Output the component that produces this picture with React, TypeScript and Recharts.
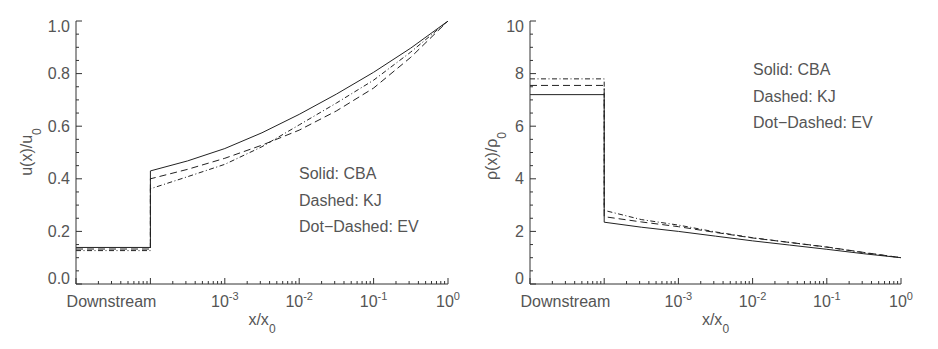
import { LineChart, Line, XAxis, YAxis } from "recharts";

const xPoints = [1e-5, 1e-4, 1e-4, 3.16e-4, 1e-3, 3.16e-3, 1e-2, 3.16e-2, 1e-1, 3.16e-1, 1];

// u(x)/u0
const uCBA = [0.139, 0.139, 0.43, 0.468, 0.515, 0.575, 0.645, 0.722, 0.805, 0.897, 1.0];
const uKJ = [0.133, 0.133, 0.4, 0.436, 0.478, 0.528, 0.585, 0.658, 0.745, 0.862, 1.0];
const uEV = [0.127, 0.127, 0.362, 0.408, 0.455, 0.522, 0.605, 0.688, 0.775, 0.882, 1.0];

// rho(x)/rho0
const rCBA = [7.2, 7.2, 2.35, 2.16, 2.0, 1.82, 1.64, 1.48, 1.32, 1.15, 1.0];
const rKJ = [7.55, 7.55, 2.56, 2.36, 2.18, 1.96, 1.75, 1.58, 1.41, 1.2, 1.0];
const rEV = [7.8, 7.8, 2.8, 2.45, 2.24, 1.98, 1.76, 1.58, 1.4, 1.19, 1.0];

const legendLines = ["Solid: CBA", "Dashed: KJ", "Dot-Dashed: EV"];
const decadeTicks = [1e-5, 1e-4, 1e-3, 1e-2, 1e-1, 1];
const uTicks = [0, 0.05, 0.1, 0.15, 0.2, 0.25, 0.3, 0.35, 0.4, 0.45, 0.5, 0.55, 0.6, 0.65, 0.7, 0.75, 0.8, 0.85, 0.9, 0.95, 1.0];
const rTicks = [0, 0.5, 1, 1.5, 2, 2.5, 3, 3.5, 4, 4.5, 5, 5.5, 6, 6.5, 7, 7.5, 8, 8.5, 9, 9.5, 10];

const FONT = "'Liberation Sans', Arial, sans-serif";
const INK = "#333";
const TXT = "#555";

const xTicks: number[] = [];
decadeTicks.forEach((d, i) => {
  xTicks.push(d);
  if (i < decadeTicks.length - 1) for (let k = 2; k <= 9; k++) xTicks.push(d * k);
});

const toSeries = (ys: number[]) => xPoints.map((x, i) => ({ x, y: ys[i] }));

const near = (a: number, b: number) => Math.abs(a - b) < 1e-6;

function XTick(props: any) {
  const { x, y, payload, side } = props;
  const lg = Math.log10(payload.value);
  const major = near(lg, Math.round(lg));
  const dir = side === "bottom" ? -1 : 1;
  const exp = Math.round(lg);
  return (
    <g>
      <line x1={x} y1={y} x2={x} y2={y + dir * (major ? 6 : 3)} stroke={INK} />
      {side === "bottom" && major && exp >= -3 && (
        <text x={x} y={y + 23} textAnchor="middle" fontFamily={FONT} fontSize={16} fill={TXT}>
          10
          <tspan dy={-7} fontSize={11}>
            {String(exp)}
          </tspan>
        </text>
      )}
      {side === "bottom" && near(lg, Math.log10(3e-5)) && (
        <text x={x} y={y + 23} textAnchor="middle" fontFamily={FONT} fontSize={16} fill={TXT}>
          Downstream
        </text>
      )}
    </g>
  );
}

function YTick(props: any) {
  const { x, y, payload, side, step, top, fmt } = props;
  const v = payload.value;
  const major = near(v / step, Math.round(v / step));
  const dir = side === "left" ? 1 : -1;
  let base = y + 5.5;
  if (near(v, 0)) base = y;
  if (near(v, top)) base = y + 11;
  return (
    <g>
      <line x1={x} y1={y} x2={x + dir * (major ? 6 : 3)} y2={y} stroke={INK} />
      {side === "left" && major && (
        <text x={x - 6} y={base} textAnchor="end" fontFamily={FONT} fontSize={16} fill={TXT}>
          {fmt(v)}
        </text>
      )}
    </g>
  );
}

type PanelProps = {
  left: number;
  plotLeft: number;
  plotRight: number;
  top: number;
  ticks: number[];
  step: number;
  fmt: (v: number) => string;
  series: number[][];
  yTitle: string;
  yTitleX: number;
  yTitleY: number;
  legendX: number;
  legendY: number;
};

const dashes = [undefined, "7 4", "5 2.5 1 2.5"];

function Panel(p: PanelProps) {
  const W = 470;
  const H = 349;
  return (
    <div style={{ position: "absolute", left: p.left, top: 0, width: W, height: H }}>
      <LineChart width={W} height={H} margin={{ top: 21, right: W - p.plotRight, bottom: 0, left: 0 }}>
        <XAxis
          dataKey="x"
          type="number"
          scale="log"
          domain={[1e-5, 1]}
          allowDataOverflow
          ticks={xTicks}
          interval={0}
          height={65}
          tickSize={0}
          tickMargin={0}
          tickLine={false}
          axisLine={{ stroke: INK }}
          tick={(t: any) => <XTick {...t} side="bottom" />}
        />
        <XAxis
          xAxisId="top"
          orientation="top"
          dataKey="x"
          type="number"
          scale="log"
          domain={[1e-5, 1]}
          allowDataOverflow
          ticks={xTicks}
          interval={0}
          height={0}
          tickSize={0}
          tickMargin={0}
          tickLine={false}
          axisLine={{ stroke: INK }}
          tick={(t: any) => <XTick {...t} side="top" />}
        />
        <YAxis
          type="number"
          domain={[0, p.top]}
          allowDataOverflow
          ticks={p.ticks}
          interval={0}
          width={p.plotLeft}
          tickSize={0}
          tickMargin={0}
          tickLine={false}
          axisLine={{ stroke: INK }}
          tick={(t: any) => <YTick {...t} side="left" step={p.step} top={p.top} fmt={p.fmt} />}
        />
        <YAxis
          yAxisId="r"
          orientation="right"
          type="number"
          domain={[0, p.top]}
          allowDataOverflow
          ticks={p.ticks}
          interval={0}
          width={0}
          tickSize={0}
          tickMargin={0}
          tickLine={false}
          axisLine={{ stroke: INK }}
          tick={(t: any) => <YTick {...t} side="right" step={p.step} top={p.top} fmt={p.fmt} />}
        />
        {p.series.map((ys, i) => (
          <Line
            key={i}
            data={toSeries(ys)}
            dataKey="y"
            type="linear"
            stroke="#222"
            strokeWidth={1}
            strokeDasharray={dashes[i]}
            dot={false}
            activeDot={false}
            isAnimationActive={false}
          />
        ))}
      </LineChart>
      <svg width={W} height={H} style={{ position: "absolute", left: 0, top: 0, pointerEvents: "none" }}>
        <text
          transform={`translate(${p.yTitleX},${p.yTitleY}) rotate(-90)`}
          textAnchor="middle"
          fontFamily={FONT}
          fontSize={16}
          fill={TXT}
        >
          {p.yTitle}
          <tspan dy={8.5} fontSize={12}>
            0
          </tspan>
        </text>
        <text
          x={(p.plotLeft + p.plotRight) / 2}
          y={325}
          textAnchor="middle"
          fontFamily={FONT}
          fontSize={16}
          fill={TXT}
        >
          x/x
          <tspan dy={8} fontSize={12}>
            0
          </tspan>
        </text>
        {legendLines.map((s, i) => (
          <text key={s} x={p.legendX} y={p.legendY + i * 26.5} fontFamily={FONT} fontSize={16} fill={TXT}>
            {s.replace("-", "\u2212")}
          </text>
        ))}
      </svg>
    </div>
  );
}

export default function App() {
  return (
    <div style={{ position: "absolute", left: 0, top: 0, width: 938, height: 349, background: "#fff" }}>
      <Panel
        left={0}
        plotLeft={76}
        plotRight={448}
        top={1}
        ticks={uTicks}
        step={0.2}
        fmt={(v) => v.toFixed(1)}
        series={[uCBA, uKJ, uEV]}
        yTitle="u(x)/u"
        yTitleX={32}
        yTitleY={152}
        legendX={299}
        legendY={179}
      />
      <Panel
        left={468}
        plotLeft={62}
        plotRight={433}
        top={10}
        ticks={rTicks}
        step={2}
        fmt={(v) => String(Math.round(v))}
        series={[rCBA, rKJ, rEV]}
        yTitle="ρ(x)/ρ"
        yTitleX={29}
        yTitleY={156}
        legendX={285}
        legendY={75}
      />
    </div>
  );
}
